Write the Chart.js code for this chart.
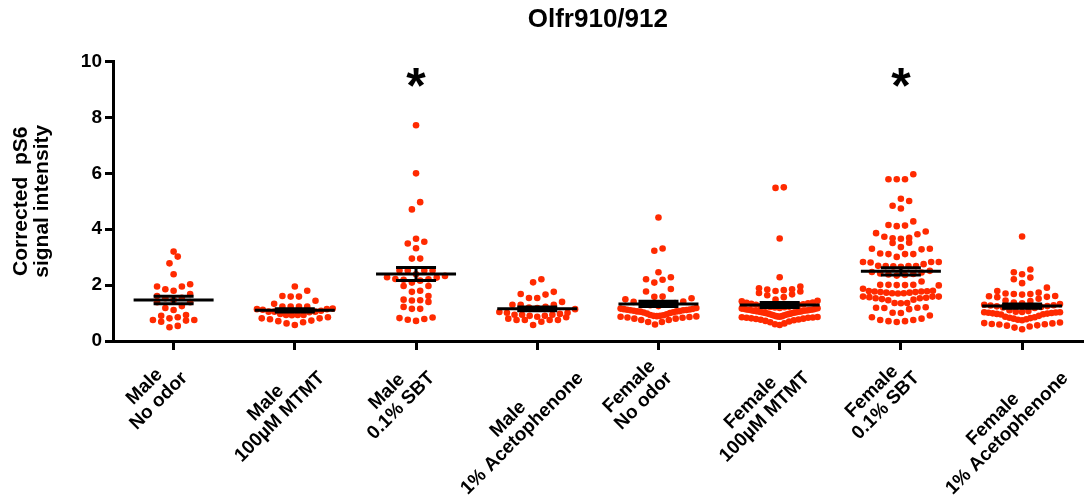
<!DOCTYPE html>
<html><head><meta charset="utf-8">
<script src="https://cdn.jsdelivr.net/npm/chart.js@4.4.1/dist/chart.umd.min.js"></script>
<style>html,body{margin:0;padding:0;background:#fff;}canvas{display:block;}</style>
</head><body>
<canvas id="c" width="1086" height="502"></canvas>
<script>
// ---- data ----
const chartTitle = "Olfr910/912";
const yTitle = ["Corrected  pS6", "signal intensity"];
const categories = [
  ["Male", "No odor"], ["Male", "100µM MTMT"], ["Male", "0.1% SBT"], ["Male", "1% Acetophenone"],
  ["Female", "No odor"], ["Female", "100µM MTMT"], ["Female", "0.1% SBT"], ["Female", "1% Acetophenone"]
];
const significant = [false, false, true, false, false, false, true, false];
const yTicks = [0, 2, 4, 6, 8, 10];

const maleNoOdor = [3.20, 3.02, 2.78, 2.39, 2.03, 1.95, 1.95, 1.85, 1.80, 1.68, 1.61, 1.55, 1.53, 1.47, 1.39, 1.39,
  1.25, 1.18, 1.11, 0.93, 0.90, 0.85, 0.81, 0.75, 0.75, 0.73, 0.69, 0.54, 0.49];
const maleMTMT = [1.95, 1.80, 1.61, 1.59, 1.59, 1.44, 1.33, 1.23, 1.23, 1.23, 1.23, 1.16, 1.14, 1.14, 1.12, 1.08, 1.05,
  1.05, 1.05, 1.03, 0.97, 0.93, 0.93, 0.93, 0.92, 0.85, 0.81, 0.81, 0.78, 0.73, 0.71, 0.67, 0.63, 0.57];
const maleSBT = [7.72, 6.00, 4.97, 4.71, 3.66, 3.55, 3.49, 3.32, 2.95, 2.95, 2.52, 2.52, 2.52, 2.52, 2.39, 2.33, 2.28,
  2.27, 2.22, 2.21, 2.19, 2.16, 2.09, 1.97, 1.97, 1.80, 1.76, 1.61, 1.48, 1.46, 1.45, 1.40, 1.22, 1.15, 1.15,
  0.84, 0.82, 0.79, 0.76, 0.72];
const maleAceto = [2.21, 2.10, 1.76, 1.68, 1.66, 1.54, 1.54, 1.40, 1.30, 1.30, 1.30, 1.22, 1.20, 1.18, 1.14, 1.04, 1.01,
  1.01, 0.97, 0.94, 0.94, 0.94, 0.90, 0.90, 0.87, 0.85, 0.80, 0.75, 0.75, 0.75, 0.75, 0.69, 0.57];
const femaleNoOdor = [4.42, 3.31, 3.23, 2.46, 2.28, 2.21, 2.19, 2.09, 1.86, 1.77, 1.59, 1.58, 1.53, 1.49, 1.41, 1.40,
  1.36, 1.33, 1.30, 1.28, 1.25, 1.18, 1.16, 1.15, 1.14, 1.13, 1.12, 1.11, 1.10, 1.10, 1.08, 1.07, 1.06, 1.06, 1.05,
  1.03, 1.02, 1.00, 0.98, 0.96, 0.93, 0.92, 0.90, 0.90, 0.89, 0.88, 0.87, 0.86, 0.84, 0.83, 0.80, 0.80, 0.75, 0.75,
  0.68, 0.68, 0.59];
const femaleMTMT = [5.50, 5.48, 3.67, 2.28, 1.95, 1.89, 1.85, 1.84, 1.82, 1.79, 1.77, 1.72, 1.67, 1.64, 1.57,
  1.48, 1.44, 1.42, 1.38, 1.37, 1.35, 1.33, 1.31, 1.30, 1.29,
  1.25, 1.24, 1.23, 1.23, 1.22, 1.21, 1.20, 1.18, 1.17, 1.16, 1.15, 1.15, 1.13, 1.13, 1.12, 1.12, 1.10, 1.10, 1.09,
  1.08, 1.08, 1.07, 1.06, 1.06, 1.05, 1.04, 1.03, 1.02, 1.01, 1.00, 0.99, 0.98, 0.97, 0.96, 0.95, 0.93, 0.92, 0.90,
  0.89, 0.88, 0.87, 0.86,
  0.85, 0.84, 0.83, 0.83, 0.81, 0.80, 0.79, 0.77, 0.76, 0.74, 0.72, 0.70, 0.67, 0.63, 0.60, 0.57];
const femaleSBT = [5.97, 5.79, 5.79, 5.79, 5.09, 5.01, 4.84, 4.74, 4.28, 4.15, 4.13, 4.11,
  3.92, 3.86, 3.82, 3.73, 3.69, 3.68, 3.66, 3.52, 3.51, 3.36, 3.30, 3.30, 3.28, 3.13, 3.11, 3.11, 3.11, 3.01,
  2.83, 2.83, 2.81, 2.83, 2.75, 2.69, 2.68, 2.68, 2.67, 2.66, 2.68, 2.51, 2.47, 2.45, 2.42, 2.40, 2.38, 2.36, 2.34,
  2.13, 2.01, 2.00, 2.00, 1.99, 2.01, 2.01, 1.87, 1.79, 1.77, 1.75, 1.73, 1.71, 1.70, 1.71, 1.73, 1.75, 1.77, 1.78,
  1.80, 1.59, 1.53, 1.53, 1.55, 1.57, 1.59, 1.59, 1.50, 1.48, 1.46, 1.36, 1.35, 1.36, 1.19, 1.18, 1.01, 1.00, 1.14,
  1.19, 1.21, 0.85, 0.75, 0.71, 0.68, 0.71, 0.75, 0.80, 0.91];
const femaleAceto = [3.74, 2.56, 2.46, 2.39, 2.27, 2.21, 2.07, 1.91, 1.79, 1.73, 1.70, 1.68, 1.68, 1.66, 1.61, 1.60,
  1.58, 1.57, 1.51, 1.45, 1.43, 1.38, 1.35, 1.32, 1.30, 1.28, 1.27, 1.25, 1.24, 1.22, 1.20, 1.18,
  1.10, 1.07, 1.05, 1.04, 1.03, 1.03, 1.02, 1.01, 1.00, 0.99, 0.98, 0.97, 0.96, 0.95,
  0.90, 0.87, 0.85, 0.83, 0.82, 0.80, 0.78, 0.76, 0.74,
  0.66, 0.63, 0.61, 0.59, 0.56, 0.52, 0.48, 0.42, 0.55, 0.60, 0.64];

const groups = [maleNoOdor, maleMTMT, maleSBT, maleAceto, femaleNoOdor, femaleMTMT, femaleSBT, femaleAceto];

// ---- style / layout constants ----
const DOT_COLOR = '#ff2a00';
const FONT = '"Liberation Sans", Arial, Helvetica, sans-serif';
const PX_PER_UNIT = (1086 - 113) / 8;
const ROW_H = 0.3, DOT_SP = 8.3, MAX_W = 76;
const LABEL_FONT = 19, LABEL_LH = 20, LABEL_DX = -22, LABEL_TOP = 13;

function swarm(values, idx) {
  const sorted = [...values].sort((a, b) => a - b);
  const rows = []; let cur = null;
  for (const v of sorted) {
    if (!cur || v - cur.start > ROW_H) { cur = {start: v, vals: []}; rows.push(cur); }
    cur.vals.push(v);
  }
  const pts = [];
  rows.forEach(r => {
    const n = r.vals.length;
    const sp = n > 1 ? Math.min(DOT_SP, MAX_W / (n - 1)) : 0;
    const slots = [];
    for (let i = 0; i < n; i++) slots.push((i - (n - 1) / 2) * sp);
    slots.sort((a, b) => Math.abs(a) - Math.abs(b) || a - b);
    r.vals.forEach((v, k) => pts.push({x: idx + slots[k] / PX_PER_UNIT, y: v}));
  });
  return pts;
}

function stats(vals) {
  const n = vals.length;
  const m = vals.reduce((a, b) => a + b, 0) / n;
  const sd = Math.sqrt(vals.reduce((a, b) => a + (b - m) * (b - m), 0) / (n - 1));
  return {mean: m, sem: sd / Math.sqrt(n)};
}

const overlay = {
  id: 'overlay',
  afterDatasetsDraw(chart) {
    const {ctx, scales: {x, y}} = chart;
    ctx.save();
    ctx.strokeStyle = '#000'; ctx.lineWidth = 3; ctx.lineCap = 'butt';
    groups.forEach((vals, i) => {
      const s = stats(vals);
      const cx = x.getPixelForValue(i);
      const ym = y.getPixelForValue(s.mean), yt = y.getPixelForValue(s.mean + s.sem), yb = y.getPixelForValue(s.mean - s.sem);
      ctx.beginPath();
      ctx.moveTo(cx - 40, ym); ctx.lineTo(cx + 40, ym);
      ctx.moveTo(cx - 20, yt); ctx.lineTo(cx + 20, yt);
      ctx.moveTo(cx - 20, yb); ctx.lineTo(cx + 20, yb);
      ctx.moveTo(cx, yt); ctx.lineTo(cx, yb);
      ctx.stroke();
    });
    ctx.fillStyle = '#000';
    ctx.font = 'bold 50px ' + FONT;
    ctx.textAlign = 'center'; ctx.textBaseline = 'alphabetic';
    significant.forEach((sig, i) => {
      if (!sig) return;
      ctx.fillText('*', x.getPixelForValue(i), y.getPixelForValue(9.5) + 0.55 * 50);
    });
    ctx.restore();
  },
  afterDraw(chart) {
    const {ctx, scales: {x, y}} = chart;
    ctx.save();
    ctx.fillStyle = '#000';
    ctx.font = 'bold ' + LABEL_FONT + 'px ' + FONT;
    const axisY = y.getPixelForValue(0);
    categories.forEach((lines, i) => {
      const L = Math.max(...lines.map(t => ctx.measureText(t).width));
      const H = lines.length * LABEL_LH;
      const half = (L / 2 + H / 2) * Math.SQRT1_2;
      const cx = x.getPixelForValue(i) + LABEL_DX;
      const cy = axisY + LABEL_TOP + half;
      ctx.save();
      ctx.translate(cx, cy); ctx.rotate(-Math.PI / 4);
      ctx.textAlign = 'center'; ctx.textBaseline = 'middle';
      lines.forEach((t, k) => ctx.fillText(t, 0, (k - (lines.length - 1) / 2) * LABEL_LH));
      ctx.restore();
    });
    ctx.restore();
  }
};

const datasets = groups.map((g, i) => ({
  data: swarm(g, i),
  backgroundColor: DOT_COLOR,
  pointRadius: 3.3,
  pointBorderWidth: 0,
  pointHoverRadius: 3.3
}));

new Chart(document.getElementById('c'), {
  type: 'scatter',
  data: {datasets},
  plugins: [overlay],
  options: {
    responsive: false, animation: false, devicePixelRatio: 1,
    layout: {padding: {left: 0, right: 0, top: 0, bottom: 0}},
    plugins: {
      legend: {display: false}, tooltip: {enabled: false},
      title: {display: true, fullSize: false, text: chartTitle, color: '#000',
        font: {family: FONT, size: 26, weight: 'bold', lineHeight: 1.1},
        padding: {top: 6, bottom: 27}}
    },
    scales: {
      x: {
        type: 'linear', min: -0.5, max: 7.5, bounds: 'data',
        afterBuildTicks: s => { s.ticks = categories.map((c, i) => ({value: i})); },
        ticks: {display: false},
        grid: {drawOnChartArea: false, color: '#000', lineWidth: 3, tickLength: 9},
        border: {color: '#000', width: 3},
        afterFit: s => { s.height = 161; }
      },
      y: {
        min: 0, max: 10,
        afterBuildTicks: s => { s.ticks = yTicks.map(v => ({value: v})); },
        ticks: {color: '#000', font: {family: FONT, size: 19, weight: 'bold'}, padding: 3},
        grid: {drawOnChartArea: false, color: '#000', lineWidth: 3, tickLength: 8},
        border: {color: '#000', width: 3},
        title: {display: true, text: yTitle, color: '#000', font: {family: FONT, size: 21, weight: 'bold', lineHeight: 1.0},
          padding: {top: 11, bottom: 0}},
        afterFit: s => { s.width = 113; }
      }
    }
  }
});
</script>
</body></html>
